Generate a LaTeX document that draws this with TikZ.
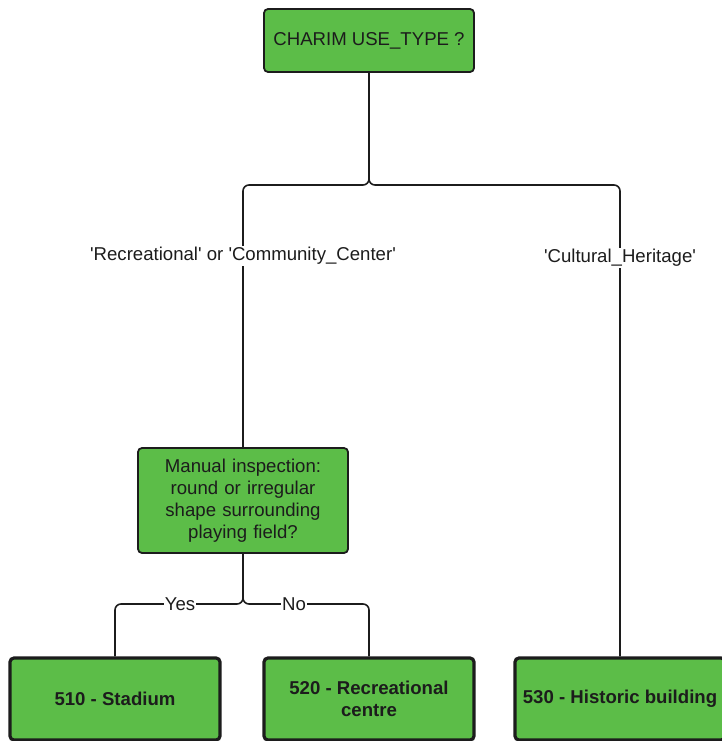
\documentclass[tikz,border=0pt]{standalone}
\usepackage{fontspec}
\setmainfont{Liberation Sans}[Ligatures=TeXOff]
\definecolor{boxgreen}{HTML}{5CBD48}
\definecolor{ink}{HTML}{1C1C1C}
\begin{document}
\begin{tikzpicture}[x=1pt,y=-1pt,
  question/.style={draw=ink, line width=1.8pt, fill=boxgreen, rounded corners=4pt,
    minimum width=210pt, inner sep=2pt, align=center, text=ink,
    font=\fontsize{18.6}{21.8}\selectfont},
  leaf/.style={draw=ink, line width=3.2pt, fill=boxgreen, rounded corners=4pt,
    minimum width=210pt, minimum height=82pt, inner sep=2pt, align=center, text=ink,
    font=\fontsize{18.6}{22.5}\selectfont\bfseries},
  link/.style={draw=ink, line width=1.6pt, rounded corners=6pt},
  lbl/.style={fill=white, inner sep=1pt, text=ink, font=\fontsize{18.6}{21}\selectfont}]
\useasboundingbox (0,0) rectangle (721,741);

% decision nodes
\node[question, minimum height=63pt] (top) at (369,40.5) {CHARIM USE\_TYPE ?};
\node[question, minimum height=105pt, text width=200pt] (manual) at (243,500.5)
  {Manual inspection:\\round or irregular\\shape surrounding\\playing field?};

% outcome nodes
\node[leaf] (stadium) at (115,699) {510 - Stadium};
\node[leaf] (recr) at (369,699) {520 - Recreational\\centre};
\node[leaf] (hist) at (620,699) {530 - Historic building};

% branching points
\coordinate (j1) at (369,185);
\coordinate (j2) at (243,604);

% connectors
\path[link] (top.south) -- (j1) -| (manual.north);
\path[link] (top.south) -- (j1) -| (hist.north);
\path[link] (manual.south) -- (j2) -| (stadium.north);
\path[link] (manual.south) -- (j2) -| (recr.north);

% branch labels
\node[lbl] (lrec) at (243,256) {'Recreational' or 'Community\_Center'};
\node[lbl] (lcul) at (620,258) {'Cultural\_Heritage'};
\node[lbl] (lyes) at (180,604) {Yes};
\node[lbl] (lno) at (294,604) {No};
\end{tikzpicture}
\end{document}
